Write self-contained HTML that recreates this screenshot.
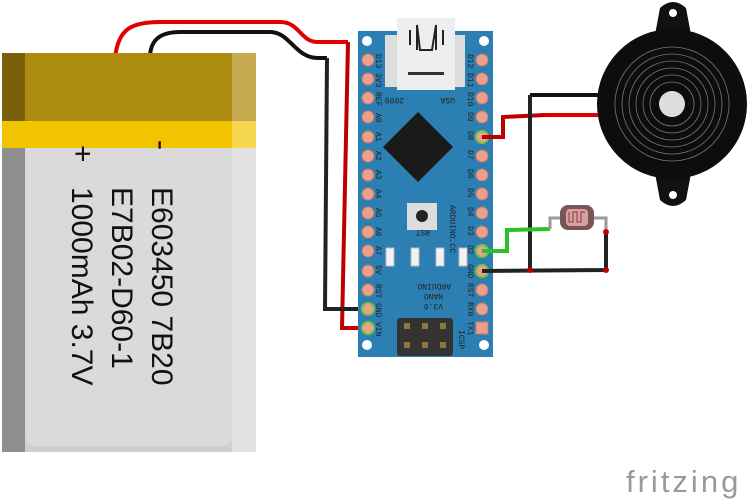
<!DOCTYPE html>
<html><head><meta charset="utf-8"><style>html,body{margin:0;padding:0;background:#fff}svg{display:block}</style></head>
<body>
<svg width="748" height="501" viewBox="0 0 748 501" xmlns="http://www.w3.org/2000/svg" font-family="Liberation Sans, sans-serif">
<!-- battery wires -->
<path d="M115 58 C118 30 130 22 160 22 L280 22 C300 22 300 42 318 42 L348 42" fill="none" stroke="#e00000" stroke-width="4"/>
<path d="M150 58 C150 40 160 32 180 32 L270 32 C290 32 295 58 318 58 L327 58" fill="none" stroke="#111" stroke-width="4"/>
<!-- battery -->
<rect x="2" y="53" width="254" height="399" rx="8" fill="#cfcfcf"/>
<rect x="2" y="53" width="23" height="399" fill="#8e8e8e"/>
<rect x="232" y="53" width="24" height="399" fill="#e2e2e2"/>
<rect x="25" y="58" width="207" height="388" rx="10" fill="#dadada"/>
<rect x="2" y="53" width="254" height="68" fill="#ad8a0f"/>
<rect x="2" y="53" width="23" height="68" fill="#7a600a"/>
<rect x="232" y="53" width="24" height="68" fill="#c7aa50"/>
<rect x="25" y="58" width="207" height="63" rx="8" fill="#ae8c12"/>
<rect x="2" y="121" width="254" height="27" fill="#f2c400"/>
<rect x="232" y="121" width="24" height="27" fill="#f7d650"/>
<g font-size="30" fill="#111">
<text transform="translate(152,187) rotate(90)">E603450 7B20</text>
<text transform="translate(112,187) rotate(90)">E7B02-D60-1</text>
<text transform="translate(72,187) rotate(90)">1000mAh 3.7V</text>
<text transform="translate(152,140) rotate(90)">-</text>
<text transform="translate(73,145) rotate(90)">+</text>
</g>
<!-- battery to nano wires -->
<path d="M348 42 L342 328 L368 328" fill="none" stroke="#c00000" stroke-width="4"/>
<path d="M327 58 L325 309 L368 309" fill="none" stroke="#222" stroke-width="4"/>
<!-- board -->
<rect x="358" y="31" width="135" height="326" fill="#2b7fb2"/>
<rect x="385" y="35" width="80" height="52" fill="#ddd"/>
<rect x="397" y="18" width="58" height="72" fill="#eee"/>
<path d="M410 45 L410 30 M417 50 L417 25 L420 50 L432 50 L436 25 L436 50 M443 45 L443 30" stroke="#222" stroke-width="2" fill="none"/>
<rect x="408" y="72" width="36" height="3" fill="#333"/>
<circle cx="367" cy="41" r="5" fill="#fff"/><circle cx="484" cy="41" r="5" fill="#fff"/>
<circle cx="367" cy="345" r="5" fill="#fff"/><circle cx="484" cy="345" r="5" fill="#fff"/>
<path d="M418 112 L453 147 L418 182 L383 147 Z" fill="#1a1a1a"/>
<rect x="407" y="203" width="30" height="27" fill="#ddd"/><circle cx="422" cy="216" r="6" fill="#222"/>
<g fill="#f2f2f2" stroke="#bbb"><rect x="386" y="248" width="8" height="18"/><rect x="411" y="248" width="8" height="18"/><rect x="436" y="248" width="8" height="18"/><rect x="459" y="248" width="8" height="18"/></g>
<rect x="397" y="318" width="56" height="38" rx="3" fill="#333"/>
<g fill="#8a7a3a"><rect x="404" y="323" width="6" height="6"/><rect x="422" y="323" width="6" height="6"/><rect x="440" y="323" width="6" height="6"/><rect x="404" y="342" width="6" height="6"/><rect x="422" y="342" width="6" height="6"/><rect x="440" y="342" width="6" height="6"/></g>
<g fill="#e9a08c" stroke="#c97a68" stroke-width="1">
<circle cx="368" cy="60" r="6"/><circle cx="368" cy="79" r="6"/><circle cx="368" cy="98" r="6"/><circle cx="368" cy="117" r="6"/><circle cx="368" cy="137" r="6"/><circle cx="368" cy="156" r="6"/><circle cx="368" cy="175" r="6"/><circle cx="368" cy="194" r="6"/><circle cx="368" cy="213" r="6"/><circle cx="368" cy="232" r="6"/><circle cx="368" cy="251" r="6"/><circle cx="368" cy="271" r="6"/><circle cx="368" cy="290" r="6"/>
<circle cx="482" cy="60" r="6"/><circle cx="482" cy="79" r="6"/><circle cx="482" cy="98" r="6"/><circle cx="482" cy="117" r="6"/><circle cx="482" cy="156" r="6"/><circle cx="482" cy="175" r="6"/><circle cx="482" cy="194" r="6"/><circle cx="482" cy="213" r="6"/><circle cx="482" cy="232" r="6"/><circle cx="482" cy="290" r="6"/><circle cx="482" cy="309" r="6"/>
<rect x="476" y="322" width="12" height="12"/>
</g>
<g fill="#e9a08c" stroke="#7fc040" stroke-width="2">
<circle cx="368" cy="309" r="6"/><circle cx="368" cy="328" r="6"/><circle cx="482" cy="137" r="6"/><circle cx="482" cy="251" r="6"/><circle cx="482" cy="271" r="6"/>
</g>
<g font-size="8" fill="#222" font-family="Liberation Mono, monospace">
<text transform="translate(376,54) rotate(90)">D13</text><text transform="translate(376,73) rotate(90)">3V3</text><text transform="translate(376,92) rotate(90)">REF</text>
<text transform="translate(376,113) rotate(90)">A0</text><text transform="translate(376,132) rotate(90)">A1</text><text transform="translate(376,151) rotate(90)">A2</text><text transform="translate(376,170) rotate(90)">A3</text><text transform="translate(376,189) rotate(90)">A4</text><text transform="translate(376,208) rotate(90)">A5</text><text transform="translate(376,227) rotate(90)">A6</text><text transform="translate(376,246) rotate(90)">A7</text><text transform="translate(376,265) rotate(90)">5V</text><text transform="translate(376,284) rotate(90)">RST</text><text transform="translate(376,303) rotate(90)">GND</text><text transform="translate(376,322) rotate(90)">VIN</text>
<text transform="translate(468,54) rotate(90)">D12</text><text transform="translate(468,73) rotate(90)">D11</text><text transform="translate(468,92) rotate(90)">D10</text><text transform="translate(468,112) rotate(90)">D9</text><text transform="translate(468,131) rotate(90)">D8</text><text transform="translate(468,150) rotate(90)">D7</text><text transform="translate(468,169) rotate(90)">D6</text><text transform="translate(468,188) rotate(90)">D5</text><text transform="translate(468,207) rotate(90)">D4</text><text transform="translate(468,226) rotate(90)">D3</text><text transform="translate(468,245) rotate(90)">D2</text><text transform="translate(468,264) rotate(90)">GND</text><text transform="translate(468,283) rotate(90)">RST</text><text transform="translate(468,302) rotate(90)">RX0</text><text transform="translate(468,321) rotate(90)">TX1</text>
<text transform="translate(450,205) rotate(90)">ARDUINO.CC</text>
<text transform="translate(451,284) rotate(180)">ARDUINO</text><text transform="translate(443,294) rotate(180)">NANO</text><text transform="translate(443,304) rotate(180)">V3.0</text>
<text transform="translate(430,230) rotate(180)">RST</text>
<text transform="translate(404,98) rotate(180)">2009</text><text transform="translate(455,98) rotate(180)">USA</text>
<text transform="translate(459,330) rotate(90)">ICSP</text>
</g>
<!-- buzzer -->
<path d="M660 8 Q673 -4 686 8 L692 40 L654 40 Z" fill="#111"/>
<path d="M654 168 L692 168 L686 200 Q673 212 660 200 Z" fill="#111"/>
<circle cx="673" cy="13" r="4" fill="#fff"/><circle cx="673" cy="195" r="4" fill="#fff"/>
<circle cx="672" cy="104" r="75" fill="#0d0d0d"/>
<g fill="none" stroke="#777" stroke-width="0.8"><circle cx="672" cy="104" r="22"/><circle cx="672" cy="104" r="29"/><circle cx="672" cy="104" r="36"/><circle cx="672" cy="104" r="43"/><circle cx="672" cy="104" r="50"/><circle cx="672" cy="104" r="57"/></g>
<circle cx="672" cy="104" r="13" fill="#ddd"/>
<!-- right wires -->
<path d="M598 95 L530 95" stroke="#111" stroke-width="4"/>
<path d="M598 115 L545 115" stroke="#e00000" stroke-width="4"/>
<path d="M482 137 L503 137 L503 117 L545 115" fill="none" stroke="#c00000" stroke-width="4"/>
<path d="M530 95 L530 270" stroke="#222" stroke-width="4"/>
<path d="M482 271 L606 270 L606 230" fill="none" stroke="#222" stroke-width="4"/>
<path d="M482 251 L507 251 L507 230 L550 229" fill="none" stroke="#2ac02a" stroke-width="4"/>
<path d="M550 229 L550 218 L562 218 M592 218 L606 218 L606 230" fill="none" stroke="#999" stroke-width="3"/>
<rect x="560" y="205" width="34" height="25" rx="8" fill="#7a5555"/>
<rect x="566" y="209" width="22" height="17" rx="4" fill="#d8a0a0"/>
<path d="M569 212 L569 222 L573 222 L573 212 L577 212 L577 222 L581 222 L581 212 L585 212" fill="none" stroke="#8a3a3a" stroke-width="1"/>
<g fill="#c00000"><circle cx="530" cy="270" r="3"/><circle cx="606" cy="270" r="3"/><circle cx="606" cy="232" r="3"/></g>
<text x="626" y="492" font-size="31" letter-spacing="3" fill="#9a9a9a">fritzing</text>
</svg>
</body></html>
